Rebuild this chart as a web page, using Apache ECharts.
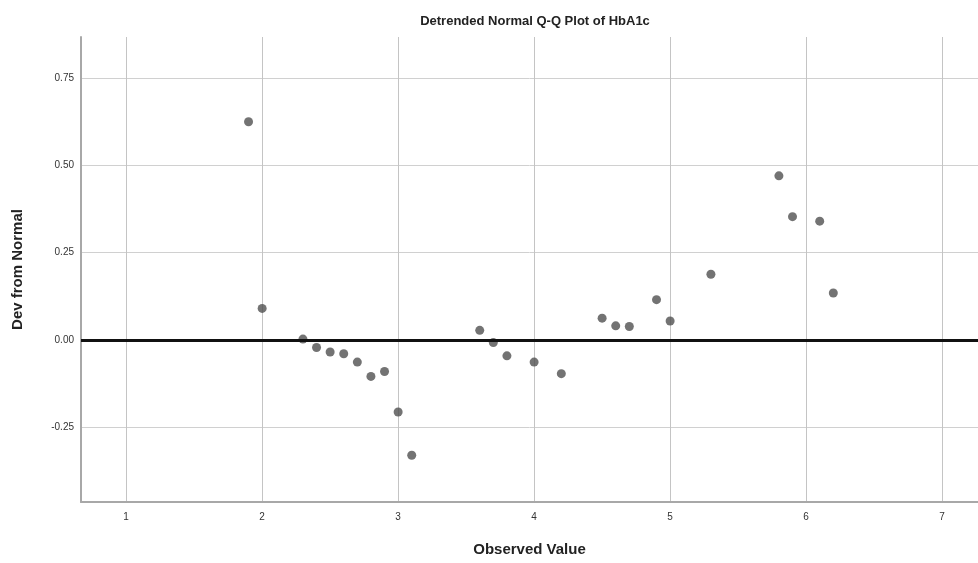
<!DOCTYPE html>
<html>
<head>
<meta charset="utf-8">
<script src="https://cdn.jsdelivr.net/npm/echarts@6/dist/echarts.min.js"></script>
<style>
  html,body{margin:0;padding:0;background:#fff;}
  #c{width:978px;height:563px;}
</style>
</head>
<body>
<div id="c"></div>
<script>
// observed HbA1c values and their deviation from normal
var observed = [1.9, 2.0, 2.3, 2.4, 2.5, 2.6, 2.7, 2.8, 2.9, 3.0, 3.1, 3.6, 3.7, 3.8, 4.0, 4.2, 4.5, 4.6, 4.7, 4.9, 5.0, 5.3, 5.8, 5.9, 6.1, 6.2];
var deviation = [0.625, 0.090, 0.002, -0.022, -0.035, -0.040, -0.064, -0.105, -0.091, -0.207, -0.331, 0.027, -0.008, -0.046, -0.064, -0.097, 0.062, 0.040, 0.038, 0.115, 0.054, 0.188, 0.470, 0.353, 0.340, 0.134];
var xTicks = [1, 2, 3, 4, 5, 6, 7];
var yTicks = [-0.25, 0, 0.25, 0.5, 0.75];

var points = observed.map(function(v, i){ return [v, deviation[i]]; });

var myChart = echarts.init(document.getElementById('c'));
var option = {
  animation: false,
  title: {
    text: 'Detrended Normal Q-Q Plot of HbA1c',
    left: 530, top: 10, textAlign: 'center',
    textStyle: {fontFamily: 'Liberation Sans', fontSize: 13, fontWeight: 'bold', color: '#222'}
  },
  grid: {left: 81, right: 0, top: 37, bottom: 61},
  xAxis: {
    type: 'value',
    min: 0.668, max: 7.264,
    name: 'Observed Value',
    nameLocation: 'middle',
    nameGap: 40,
    nameTextStyle: {fontFamily: 'Liberation Sans', fontSize: 15, fontWeight: 'bold', color: '#222'},
    axisLine: {onZero: false, lineStyle: {color: '#a8a8a8', width: 2}},
    axisTick: {show: false, customValues: xTicks},
    axisLabel: {customValues: xTicks, margin: 10, fontSize: 10, color: '#333', fontFamily: 'Liberation Sans'},
    splitLine: {show: true, lineStyle: {color: '#c4c4c4', width: 1}}
  },
  yAxis: {
    type: 'value',
    min: -0.465, max: 0.868,
    name: 'Dev from Normal',
    nameLocation: 'middle',
    nameGap: 56,
    nameTextStyle: {fontFamily: 'Liberation Sans', fontSize: 15, fontWeight: 'bold', color: '#222'},
    axisLine: {show: true, onZero: false, lineStyle: {color: '#a8a8a8', width: 2}},
    axisTick: {show: false, customValues: yTicks},
    axisLabel: {
      customValues: yTicks, margin: 7, fontSize: 10, color: '#333', fontFamily: 'Liberation Sans',
      formatter: function(v){ return v.toFixed(2); }
    },
    splitLine: {show: true, lineStyle: {color: '#d0d0d0', width: 1}}
  },
  series: [
    {
      type: 'scatter',
      data: points,
      symbolSize: 9,
      itemStyle: {color: '#505050'},
      markLine: {
        silent: true,
        symbol: 'none',
        label: {show: false},
        lineStyle: {color: '#111', width: 3, type: 'solid'},
        data: [{yAxis: 0}]
      }
    }
  ]
};
option && myChart.setOption(option);
</script>
</body>
</html>
